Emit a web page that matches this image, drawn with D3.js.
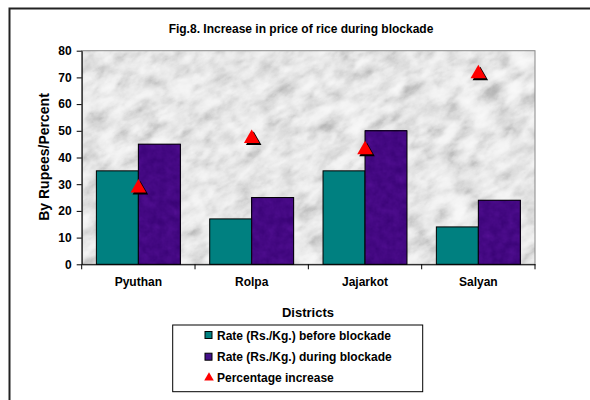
<!DOCTYPE html>
<html><head><meta charset="utf-8">
<script src="https://cdn.jsdelivr.net/npm/d3@7"></script>
<style>
html,body{margin:0;padding:0;background:#fff;}
svg{display:block;font-family:"Liberation Sans",Arial,sans-serif;}
</style></head>
<body>
<svg id="chart" width="590" height="400"></svg>
<script>
const categories = ["Pyuthan", "Rolpa", "Jajarkot", "Salyan"];
const beforeRates = [35, 17, 35, 14];
const duringRates = [45, 25, 50, 24];
const percentIncrease = [28.6, 47.1, 42.9, 71.4];
const yTicks = [0, 10, 20, 30, 40, 50, 60, 70, 80];
const seriesNames = ["Rate (Rs./Kg.) before blockade", "Rate (Rs./Kg.) during blockade", "Percentage increase"];

const svg = d3.select("#chart");
const defs = svg.append("defs");

// marble filter
const mf = defs.append("filter").attr("id","marble").attr("x",0).attr("y",0).attr("width","100%").attr("height","100%")
  .attr("color-interpolation-filters","sRGB");
mf.append("feTurbulence").attr("type","fractalNoise").attr("baseFrequency","0.045 0.075").attr("numOctaves",6).attr("seed",11).attr("result","n");
mf.append("feColorMatrix").attr("type","matrix")
  .attr("values","0.33 0.33 0.33 0 0  0.33 0.33 0.33 0 0  0.33 0.33 0.33 0 0  0 0 0 0 1").attr("result","g");
const marbleTable = "0.62 0.62 0.68 0.76 0.85 0.91 0.95 0.97 0.98 0.98 0.98";
const ct = mf.append("feComponentTransfer").attr("in","g");
["feFuncR","feFuncG","feFuncB"].forEach(f=>ct.append(f).attr("type","table").attr("tableValues",marbleTable));

// purple texture filter
const pf = defs.append("filter").attr("id","purp").attr("x",0).attr("y",0).attr("width","100%").attr("height","100%")
  .attr("color-interpolation-filters","sRGB");
pf.append("feTurbulence").attr("type","fractalNoise").attr("baseFrequency","0.12").attr("numOctaves",3).attr("seed",3).attr("result","n");
pf.append("feColorMatrix").attr("type","matrix")
  .attr("values","0.33 0.33 0.33 0 0  0.33 0.33 0.33 0 0  0.33 0.33 0.33 0 0  0 0 0 0 1").attr("result","g");
const pct = pf.append("feComponentTransfer").attr("in","g");
pct.append("feFuncR").attr("type","table").attr("tableValues","0.2 0.24 0.3 0.38");
pct.append("feFuncG").attr("type","table").attr("tableValues","0.0 0.02 0.05 0.08");
pct.append("feFuncB").attr("type","table").attr("tableValues","0.42 0.48 0.55 0.62");

// outer frame
svg.append("rect").attr("x",9.5).attr("y",8.5).attr("width",600).attr("height",420)
  .attr("fill","#fff").attr("stroke","#222").attr("stroke-width",2);

const plot = {left:81.7, top:50.7, right:535, bottom:264.3};
const x = d3.scaleBand().domain(categories).range([plot.left, plot.right]).paddingInner(0).paddingOuter(0);
const inner = d3.scaleBand().domain(["before","during"]).range([0, x.bandwidth()]).paddingInner(0).paddingOuter(0.35);
const y = d3.scaleLinear().domain([0,80]).range([plot.bottom, plot.top]);

// plot background
const clip = defs.append("clipPath").attr("id","pc");
clip.append("rect").attr("x",plot.left).attr("y",plot.top).attr("width",plot.right-plot.left).attr("height",plot.bottom-plot.top);
const pcx = (plot.left+plot.right)/2, pcy = (plot.top+plot.bottom)/2;
svg.append("g").attr("clip-path","url(#pc)").append("g").attr("transform",`rotate(-30 ${pcx} ${pcy})`)
  .append("rect")
  .attr("x",pcx-330).attr("y",pcy-330).attr("width",660).attr("height",660)
  .attr("filter","url(#marble)");
svg.append("rect").attr("x",plot.left).attr("y",plot.top).attr("width",plot.right-plot.left).attr("height",plot.bottom-plot.top)
  .attr("fill","none").attr("stroke","#888").attr("stroke-width",1);

// bars
const g = svg.append("g");
categories.forEach((c,i)=>{
  g.append("rect").attr("x",x(c)+inner("before")).attr("y",y(beforeRates[i]))
    .attr("width",inner.bandwidth()).attr("height",y(0)-y(beforeRates[i]))
    .attr("fill","#008080").attr("stroke","#000").attr("stroke-width",1);
  const px = x(c)+inner("during"), pw = inner.bandwidth(), ph = y(0)-y(duringRates[i]);
  g.append("rect").attr("x",px).attr("y",y(duringRates[i])).attr("width",pw).attr("height",ph)
    .attr("fill","#44108a").attr("filter","url(#purp)");
  g.append("rect").attr("x",px).attr("y",y(duringRates[i])).attr("width",pw).attr("height",ph)
    .attr("fill","none").attr("stroke","#000").attr("stroke-width",1);
});

// triangles
const tri = d3.symbol().type(d3.symbolTriangle).size(105);
categories.forEach((c,i)=>{
  const cx = x(c)+x.bandwidth()/2, cy = y(percentIncrease[i]);
  g.append("path").attr("d",tri()).attr("transform",`translate(${cx+2},${cy+2})`).attr("fill","#000");
  g.append("path").attr("d",tri()).attr("transform",`translate(${cx},${cy})`).attr("fill","#ff0000");
});

// y axis
const ya = svg.append("g").attr("transform",`translate(${plot.left},0)`)
  .call(d3.axisLeft(y).tickValues(yTicks).tickSize(5).tickSizeOuter(0));
ya.select(".domain").attr("stroke","#000");
ya.selectAll(".tick line").attr("stroke","#000");
ya.selectAll("text").attr("font-size","12px").attr("font-weight","bold").attr("fill","#000").attr("x",-10)
  .attr("font-family","'Liberation Sans',Arial,sans-serif");

// x axis
const xa = svg.append("g").attr("transform",`translate(0,${plot.bottom})`)
  .call(d3.axisBottom(x).tickSize(0).tickSizeOuter(0));
xa.select(".domain").attr("stroke","#000");
xa.selectAll("text").attr("font-size","12px").attr("font-weight","bold").attr("fill","#000").attr("dy","1.55em")
  .attr("font-family","'Liberation Sans',Arial,sans-serif");
// category separator ticks
const sep = [0,1,2,3,4].map(k=> plot.left + k*x.bandwidth());
svg.append("g").selectAll("line").data(sep).join("line")
  .attr("x1",d=>d).attr("x2",d=>d).attr("y1",plot.bottom).attr("y2",plot.bottom+5).attr("stroke","#000");

// titles
svg.append("text").attr("x",301).attr("y",33).attr("text-anchor","middle")
  .attr("font-size","12px").attr("font-weight","bold").text("Fig.8. Increase in price of rice during blockade");
svg.append("text").attr("transform","translate(49,157) rotate(-90)").attr("text-anchor","middle")
  .attr("font-size","14px").attr("font-weight","bold").text("By Rupees/Percent");
svg.append("text").attr("x",308).attr("y",317).attr("text-anchor","middle")
  .attr("font-size","13px").attr("font-weight","bold").text("Districts");

// legend
const lg = svg.append("g");
lg.append("rect").attr("x",172.7).attr("y",325).attr("width",250).attr("height",66.7)
  .attr("fill","#fff").attr("stroke","#000").attr("stroke-width",1);
const rows = [335, 356.7, 377.3];
lg.append("rect").attr("x",205).attr("y",rows[0]-3.5).attr("width",7).attr("height",7).attr("fill","#008080").attr("stroke","#000");
lg.append("rect").attr("x",205).attr("y",rows[1]-3.5).attr("width",7).attr("height",7).attr("fill","#44108a").attr("stroke","#000");
lg.append("path").attr("d",d3.symbol().type(d3.symbolTriangle).size(40)()).attr("transform",`translate(209,${rows[2]+0.5})`).attr("fill","#ff0000");
seriesNames.forEach((s,i)=>{
  lg.append("text").attr("x",217).attr("y",rows[i]+4.5).attr("font-size","12px").attr("font-weight","bold").text(s);
});
</script>
</body></html>
